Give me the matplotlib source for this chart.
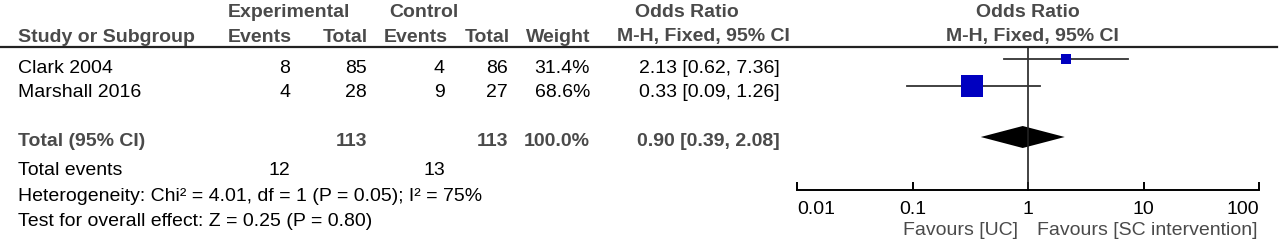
import numpy as np
import matplotlib
matplotlib.use("Agg")
import matplotlib.pyplot as plt

plt.rcParams["font.family"] = ["Liberation Sans", "DejaVu Sans"]

# study data
studies = ["Clark 2004", "Marshall 2016"]
exp_events = [8, 4]
exp_total = [85, 28]
ctl_events = [4, 9]
ctl_total = [86, 27]
weights = [31.4, 68.6]
odds = [2.13, 0.33]
ci_lo = [0.62, 0.09]
ci_hi = [7.36, 1.26]

# pooled
tot_exp, tot_ctl = 113, 113
tot_weight = 100.0
tot_or, tot_lo, tot_hi = 0.90, 0.39, 2.08
tot_events_exp, tot_events_ctl = 12, 13
het_text = "Heterogeneity: Chi² = 4.01, df = 1 (P = 0.05); I² = 75%"
effect_text = "Test for overall effect: Z = 0.25 (P = 0.80)"

axis_ticks = [0.01, 0.1, 1, 10, 100]
axis_ticklabels = ["0.01", "0.1", "1", "10", "100"]

GRAY = "#4a4a4a"
BLUE = "#0000c0"
FS = 14

W, H = 1280, 243
fig = plt.figure(figsize=(W / 100, H / 100), dpi=100)
ax = fig.add_axes([0, 0, 1, 1])
ax.set_xlim(0, W); ax.set_ylim(H, 0); ax.axis("off")

# header (baselines in pixels)
hb = dict(fontsize=FS, fontweight="bold", color=GRAY, va="baseline")
h1, h2 = 17, 41.5
ax.text(289, h1, "Experimental", ha="center", **hb)
ax.text(424, h1, "Control", ha="center", **hb)
ax.text(687, h1, "Odds Ratio", ha="center", **hb)
ax.text(1028, h1, "Odds Ratio", ha="center", **hb)
ax.text(18, h2, "Study or Subgroup", ha="left", **hb)
ax.text(292, h2, "Events", ha="right", **hb)
ax.text(368, h2, "Total", ha="right", **hb)
ax.text(448, h2, "Events", ha="right", **hb)
ax.text(510, h2, "Total", ha="right", **hb)
ax.text(590, h2, "Weight", ha="right", **hb)
ax.text(703, h2, "M-H, Fixed, 95% CI", ha="center", **hb)
ax.text(1032, h2, "M-H, Fixed, 95% CI", ha="center", **hb)
ax.plot([0, 1277], [47, 47], color="#222222", lw=1.6)

# study rows
text_base = [72.5, 97]
mark_y = [59.5, 86]
tb = dict(fontsize=FS, color="black", va="baseline")
for i, name in enumerate(studies):
    y = text_base[i]
    ax.text(18, y, name, ha="left", **tb)
    ax.text(290, y, f"{exp_events[i]}", ha="right", **tb)
    ax.text(367, y, f"{exp_total[i]}", ha="right", **tb)
    ax.text(445, y, f"{ctl_events[i]}", ha="right", **tb)
    ax.text(508, y, f"{ctl_total[i]}", ha="right", **tb)
    ax.text(590, y, f"{weights[i]:.1f}%", ha="right", **tb)
    ax.text(780, y, f"{odds[i]:.2f} [{ci_lo[i]:.2f}, {ci_hi[i]:.2f}]", ha="right", **tb)

# totals
ty = 146
tbb = dict(fontsize=FS, fontweight="bold", color=GRAY, va="baseline")
ax.text(18, ty, "Total (95% CI)", ha="left", **tbb)
ax.text(367, ty, f"{tot_exp}", ha="right", **tbb)
ax.text(508, ty, f"{tot_ctl}", ha="right", **tbb)
ax.text(590, ty, f"{tot_weight:.1f}%", ha="right", **tbb)
ax.text(780, ty, f"{tot_or:.2f} [{tot_lo:.2f}, {tot_hi:.2f}]", ha="right", **tbb)
ax.text(18, 175, "Total events", ha="left", **tb)
ax.text(290, 175, f"{tot_events_exp}", ha="right", **tb)
ax.text(445, 175, f"{tot_events_ctl}", ha="right", **tb)
ax.text(18, 201, het_text, ha="left", **tb)
ax.text(18, 226, effect_text, ha="left", **tb)

# forest panel: log axis between pixel 797 and 1259
fx = fig.add_axes([797 / W, 0, (1259 - 797) / W, 1])
fx.set_xscale("log")
fx.set_xlim(axis_ticks[0], axis_ticks[-1])
fx.set_ylim(H, 0)
fx.patch.set_alpha(0)
for s in ["top", "left", "right"]:
    fx.spines[s].set_visible(False)
fx.spines["bottom"].set_position(("data", 189.5))
fx.spines["bottom"].set_linewidth(1.4)
fx.set_yticks([])
fx.set_xticks(axis_ticks)
fx.set_xticklabels(axis_ticklabels)
fx.xaxis.set_minor_locator(matplotlib.ticker.NullLocator())
fx.tick_params(axis="x", direction="in", length=6, width=1.4, pad=8, labelsize=FS)
labels = fx.get_xticklabels()
labels[0].set_ha("left")
labels[-1].set_ha("right")

fx.plot([1, 1], [47, 189.5], color="#222222", lw=1.2, clip_on=False)
for i in range(len(studies)):
    fx.plot([ci_lo[i], ci_hi[i]], [mark_y[i], mark_y[i]], color="#333333", lw=1.3)
    fx.plot(odds[i], mark_y[i], marker="s", color=BLUE, ms=weights[i] * 0.23, mew=0)

dy = 137
fx.fill([tot_lo, tot_or, tot_hi, tot_or], [dy, dy - 11, dy, dy + 11],
        color="black", lw=0)

ax.text(1018, 235, "Favours [UC]", ha="right", va="baseline", fontsize=FS, color=GRAY)
ax.text(1037, 235, "Favours [SC intervention]", ha="left", va="baseline", fontsize=FS, color=GRAY)

fig.savefig("out.png", dpi=100)
